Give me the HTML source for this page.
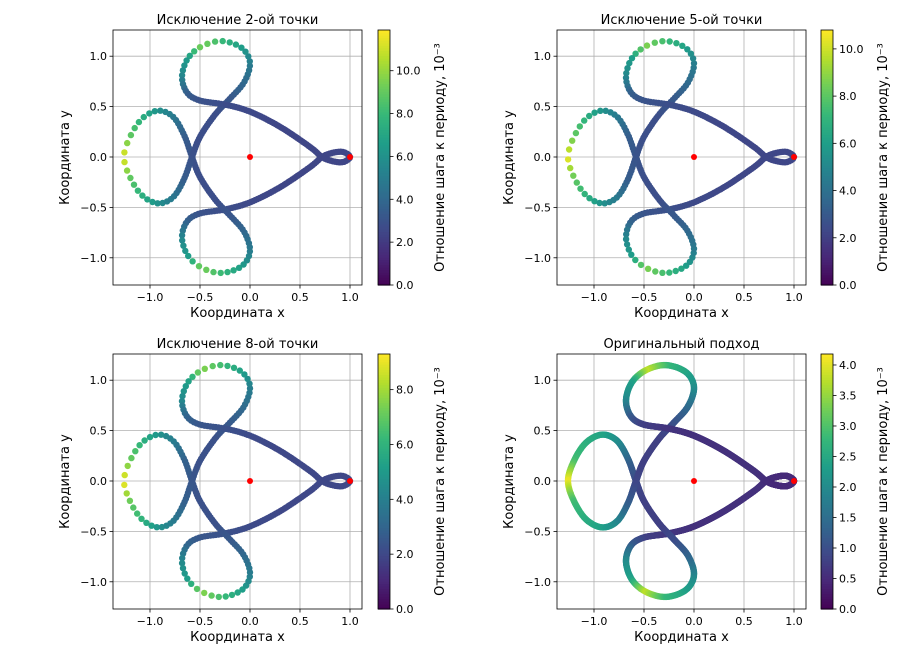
<!DOCTYPE html>
<html><head><meta charset="utf-8">
<style>
html,body{margin:0;padding:0;background:#fff;}
svg{display:block;font-family:"DejaVu Sans","Liberation Sans",sans-serif;}
</style></head>
<body>
<svg id="fig" width="908" height="660" viewBox="0 0 908 660" xmlns="http://www.w3.org/2000/svg"></svg>
<script>
// Orbit waypoints (first half; second half mirrored)
const wpX = [1.0,0.93,0.82,0.72,0.6,0.3,0.0,-0.25,-0.5,-0.63,-0.68,-0.62,-0.48,-0.28,-0.08,0.0,-0.06,-0.2,-0.35,-0.5,-0.58,-0.66,-0.77,-0.92,-1.08,-1.2,-1.26];
const wpY = [0.0,0.05,0.04,0.0,-0.1,-0.3,-0.45,-0.52,-0.56,-0.64,-0.8,-0.98,-1.1,-1.15,-1.08,-0.93,-0.74,-0.58,-0.42,-0.2,0.0,0.22,0.4,0.46,0.38,0.2,0.0];
// step/period ratio along waypoints (x 10^-3)
const vals1 = [2.5,2.5,2.5,2.5,2.5,2.5,2.6,2.8,3.0,3.6,5.5,6.5,9.5,8.0,6.5,5.0,4.0,3.2,2.8,2.8,3.0,3.5,4.8,6.0,7.5,9.0,11.5];
const vals2 = [2.3,2.3,2.3,2.3,2.3,2.3,2.4,2.6,2.8,3.3,5.0,6.0,8.7,7.4,6.0,4.6,3.7,3.0,2.6,2.6,2.8,3.2,4.4,5.5,6.9,8.3,10.5];
const vals3 = [2.0,2.0,2.0,2.0,2.0,2.0,2.1,2.3,2.5,3.0,4.4,5.2,7.6,6.4,5.2,4.0,3.2,2.6,2.3,2.3,2.5,2.9,3.9,4.8,6.0,7.2,9.2];
const vals4 = [0.5,0.5,0.5,0.55,0.6,0.6,0.6,0.65,0.8,1.2,2.0,2.4,3.8,2.8,2.4,2.0,1.4,1.0,0.8,0.8,0.9,1.3,2.0,2.4,2.6,2.9,4.1];
const titles = ["Исключение 2-ой точки","Исключение 5-ой точки","Исключение 8-ой точки","Оригинальный подход"];
const cbMax = [11.9,10.8,9.3,4.18];
const cbTicks = [[0,2,4,6,8,10],[0,2,4,6,8,10],[0,2,4,6,8],[0,0.5,1,1.5,2,2.5,3,3.5,4]];
const spacingFactor = [0.0088,0.0095,0.011,0.0035];
const allVals = [vals1,vals2,vals3,vals4];
const axTicks = [-1.0,-0.5,0.0,0.5,1.0];

const NS="http://www.w3.org/2000/svg";
const svg=document.getElementById('fig');
function mk(tag,attrs,parent){const e=document.createElementNS(NS,tag);for(const k in attrs)e.setAttribute(k,attrs[k]);(parent||svg).appendChild(e);return e;}
const vir=[[68,1,84],[72,40,120],[62,74,137],[49,104,142],[38,130,142],[31,158,137],[53,183,121],[109,205,89],[180,222,44],[253,231,37]];
function viridis(t){t=Math.max(0,Math.min(1,t));const p=t*(vir.length-1);const i=Math.min(vir.length-2,Math.floor(p));const f=p-i;const c=vir[i].map((v,k)=>Math.round(v+(vir[i+1][k]-v)*f));return `rgb(${c[0]},${c[1]},${c[2]})`;}

const PX=[],PY=[],IDX=[];
for(let i=0;i<wpX.length;i++){PX.push(wpX[i]);PY.push(wpY[i]);IDX.push(i);}
for(let i=wpX.length;i<52;i++){const j=52-i;PX.push(wpX[j]);PY.push(-wpY[j]);IDX.push(j);}
const N=PX.length;
function cr(p0,p1,p2,p3,t){return 0.5*((2*p1)+(-p0+p2)*t+(2*p0-5*p1+4*p2-p3)*t*t+(-p0+3*p1-3*p2+p3)*t*t*t);}

const panels=[{l:113,t:30,cbx:378},{l:557,t:30,cbx:821},{l:113,t:354,cbx:378},{l:557,t:354,cbx:821}];
const W=249,H=255,xmin=-1.37,xmax=1.12,ymin=-1.27,ymax=1.26;

panels.forEach((p,k)=>{
  const g=mk('g',{});
  
  
  const sx=x=>p.l+(x-xmin)/(xmax-xmin)*W;
  const sy=y=>p.t+(ymax-y)/(ymax-ymin)*H;
  const vals=allVals[k];
  axTicks.forEach(v=>{
    mk('line',{x1:sx(v),x2:sx(v),y1:p.t,y2:p.t+H,stroke:'#b0b0b0','stroke-width':0.8},g);
    mk('line',{x1:p.l,x2:p.l+W,y1:sy(v),y2:sy(v),stroke:'#b0b0b0','stroke-width':0.8},g);
  });
  const pts=mk('g',{},g);
  
  
  let acc=1e9,prevX=null,prevY=null;
  const sub=120;
  for(let s=0;s<N;s++){
    const i0=(s-1+N)%N,i1=s,i2=(s+1)%N,i3=(s+2)%N;
    const va=vals[IDX[i1]],vb=vals[IDX[i2]];
    for(let q=0;q<sub;q++){
      const t=q/sub;
      const x=cr(PX[i0],PX[i1],PX[i2],PX[i3],t),y=cr(PY[i0],PY[i1],PY[i2],PY[i3],t);
      const v=va+(vb-va)*t;
      if(prevX!==null)acc+=Math.hypot(x-prevX,y-prevY);
      prevX=x;prevY=y;
      if(acc>=v*spacingFactor[k]){
        acc=0;
        const c=mk('circle',{cx:sx(x).toFixed(1),cy:sy(y).toFixed(1),r:3.2,fill:viridis(v/cbMax[k])},pts);
        
        
      }
    }
  }
  [[0,0],[1,0]].forEach(b=>{
    const c=mk('circle',{cx:sx(b[0]),cy:sy(b[1]),r:3,fill:'#ff0000'},g);
    
    
  });
  const fr=mk('rect',{x:p.l,y:p.t,width:W,height:H,fill:'none',stroke:'#000','stroke-width':0.8},g);
  
  
  axTicks.forEach(v=>{
    mk('line',{x1:sx(v),x2:sx(v),y1:p.t+H,y2:p.t+H+3.5,stroke:'#000','stroke-width':0.8},g);
    const tx=mk('text',{x:sx(v),y:p.t+H+16,'font-size':11,'text-anchor':'middle'},g);
    tx.textContent=(v<0?'\u2212':'')+Math.abs(v).toFixed(1);
    
    
    mk('line',{x1:p.l-3.5,x2:p.l,y1:sy(v),y2:sy(v),stroke:'#000','stroke-width':0.8},g);
    const ty=mk('text',{x:p.l-6,y:sy(v)+4,'font-size':11,'text-anchor':'end'},g);
    ty.textContent=(v<0?'\u2212':'')+Math.abs(v).toFixed(1);
    
    
  });
  const tt=mk('text',{x:p.l+W/2,y:p.t-6,'font-size':13,'text-anchor':'middle'},g);
  tt.textContent=titles[k];
  
  
  const xl=mk('text',{x:p.l+W/2,y:p.t+H+32,'font-size':13,'text-anchor':'middle'},g);
  xl.textContent='Координата x';
  
  
  const yl=mk('text',{x:0,y:0,'font-size':13,'text-anchor':'middle',transform:`translate(${p.l-44},${p.t+H/2}) rotate(-90)`},g);
  yl.textContent='Координата y';
  
  
  const cb=mk('g',{},g);
  
  
  const steps=100;
  for(let i=0;i<steps;i++){
    mk('rect',{x:p.cbx,y:p.t+H-(i+1)*H/steps,width:12,height:H/steps+0.6,fill:viridis((i+0.5)/steps)},cb);
  }
  mk('rect',{x:p.cbx,y:p.t,width:12,height:H,fill:'none',stroke:'#000','stroke-width':0.8},cb);
  cbTicks[k].forEach(v=>{
    const yy=p.t+H-v/cbMax[k]*H;
    mk('line',{x1:p.cbx+12,x2:p.cbx+15.5,y1:yy,y2:yy,stroke:'#000','stroke-width':0.8},cb);
    const tl=mk('text',{x:p.cbx+18,y:yy+4,'font-size':11},cb);
    tl.textContent=v.toFixed(1);
    
    
  });
  const cl=mk('text',{x:0,y:0,'font-size':13,'text-anchor':'middle',transform:`translate(${p.cbx+66},${p.t+H/2}) rotate(-90)`},cb);
  cl.textContent='Отношение шага к периоду, 10⁻³';
  
  
});
</script>
</body></html>
